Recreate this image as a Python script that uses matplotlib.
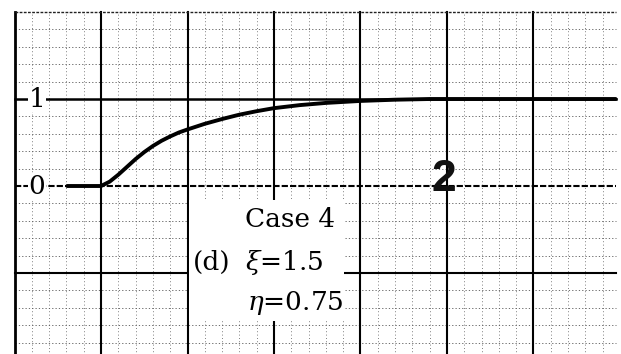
import numpy as np
import matplotlib
matplotlib.use("Agg")
import matplotlib.pyplot as plt
import matplotlib.patches as mpatches

# response curve read in grid units (one major square = 1)
t_vals = [-0.39, 0.0, 0.1, 0.2, 0.3, 0.4, 0.5, 0.6, 0.7, 0.8, 0.9, 1.0,
          1.2, 1.4, 1.6, 1.8, 2.0, 2.3, 2.6, 3.0, 3.4, 3.8, 5.95]
y_vals = [0.0, 0.0, 0.05, 0.13, 0.22, 0.31, 0.39, 0.46, 0.52, 0.57, 0.615,
          0.65, 0.715, 0.77, 0.82, 0.86, 0.895, 0.93, 0.955, 0.978, 0.992,
          1.0, 1.0]

y_ticks = [0, 1]
y_tick_labels = ["0", "1"]
case_lines = ["Case 4", r"$\xi$=1.5", r"$\eta$=0.75"]
case_tag = "(d)"
trace_no = "2"

plt.rcParams["mathtext.fontset"] = "dejavuserif"

fig = plt.figure(figsize=(6.21, 3.54), dpi=100)
ax = fig.add_axes([0, 0, 1, 1])
x0, x1 = -1.0, 5.95
y0, y1 = -1.95, 2.0
ax.set_xlim(-1.168, 6.012)
ax.set_ylim(-1.931, 2.138)
ax.axis("off")

# graph paper: fine dotted grid every 0.2, heavy lines every unit
for x in np.arange(x0, x1, 0.2):
    if abs(x - round(x)) > 1e-6:
        ax.plot([x, x], [y0, y1], color="#555555", lw=0.6,
                ls=(0, (1, 3)), zorder=1)
for y in np.arange(-2.0, y1, 0.2):
    if abs(y - round(y)) > 1e-6:
        ax.plot([x0, x1], [y, y], color="#555555", lw=0.6,
                ls=(0, (1.5, 2.5)), zorder=1)

ax.plot([x0, x0], [y0, y1], color="black", lw=2.0, zorder=2)
for x in range(0, 6):
    ax.plot([x, x], [y0, y1], color="black", lw=1.5, zorder=2)
ax.plot([x0, x1], [y1, y1], color="#222222", lw=1.0, ls=(0, (2, 1)), zorder=2)
ax.plot([x0, x1], [1, 1], color="black", lw=1.8, zorder=2)
ax.plot([x0, x1], [0, 0], color="black", lw=1.5, ls=(0, (3, 1)), zorder=2)
ax.plot([x0, x1], [-1, -1], color="black", lw=1.5, zorder=2)

# measured trace
ax.plot(t_vals, y_vals, color="black", lw=2.8, solid_capstyle="round",
        solid_joinstyle="round", zorder=4)

# level labels on the left
for yt, lab in zip(y_ticks, y_tick_labels):
    ax.text(-0.74, yt, lab, family="DejaVu Serif", fontsize=19,
            ha="center", va="center", zorder=5,
            bbox=dict(facecolor="white", edgecolor="none", pad=0.5))

# caption panel
panel = mpatches.Rectangle((1.015, -1.552), 1.79, 1.39, facecolor="white",
                           edgecolor="none", zorder=3)
ax.add_patch(panel)
ax.text(1.665, -0.471, case_lines[0], family="DejaVu Serif", fontsize=19,
        ha="left", va="baseline", zorder=5)
ax.text(1.064, -0.966, case_tag, family="DejaVu Serif", fontsize=19,
        ha="left", va="baseline", zorder=5)
ax.text(1.665, -0.966, case_lines[1], family="DejaVu Serif", fontsize=19,
        ha="left", va="baseline", zorder=5)
ax.text(1.688, -1.425, case_lines[2], family="DejaVu Serif", fontsize=19,
        ha="left", va="baseline", zorder=5)

# hand-written trace number
ax.text(3.965, 0.08, trace_no, family="Liberation Sans", weight="bold",
        fontsize=32, color="#111111", ha="center", va="center", zorder=5)

fig.savefig("out.png", dpi=100, facecolor="white")
